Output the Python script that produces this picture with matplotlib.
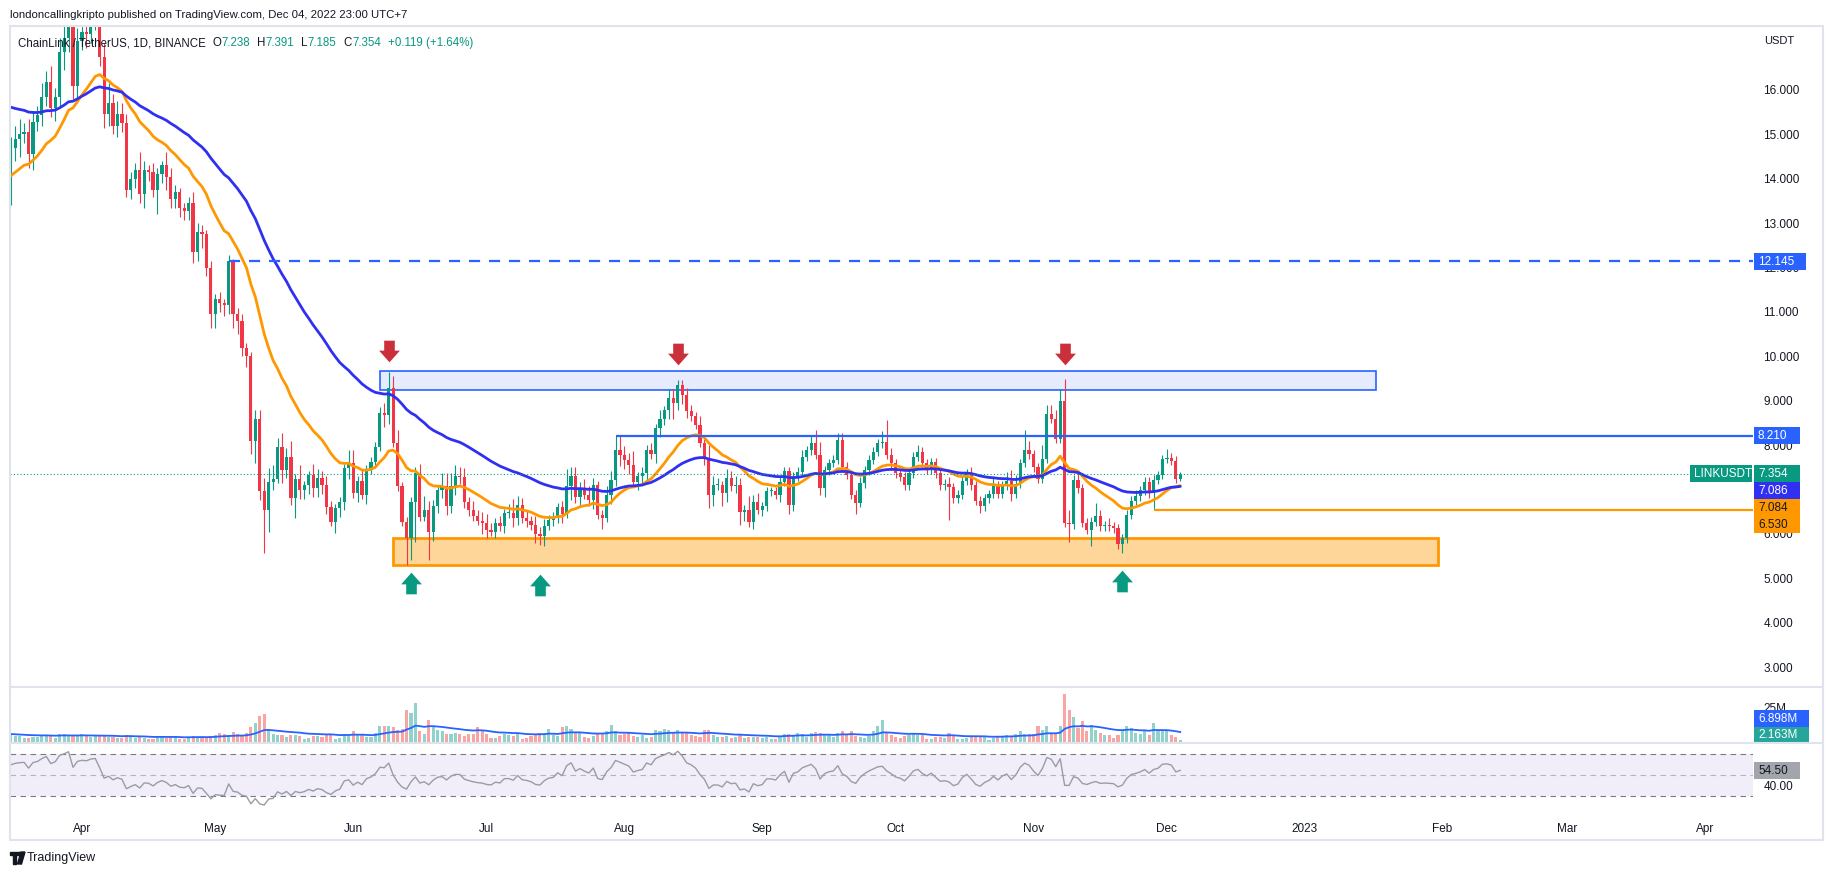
import numpy as np
import pandas as pd
import matplotlib
matplotlib.use('Agg')
import matplotlib.pyplot as plt
from matplotlib.path import Path
from matplotlib.patches import Rectangle, Circle, Polygon

plt.rcParams['font.family'] = ['Liberation Sans', 'DejaVu Sans']

# ---- data: LINKUSDT daily, 2022-03-16 .. 2022-12-04 ----
open_first = 13.70
close_mar = [14.70, 14.90, 15.00, 15.05, 14.55, 15.28, 15.43, 15.85, 16.18, 15.60, 15.85, 16.86, 17.16, 17.55, 16.10, 17.10]
close_apr = [17.30, 17.25, 17.55, 17.65, 16.75, 15.45, 15.70, 15.20, 15.45, 15.25, 13.75, 14.00, 14.20, 13.65, 14.20,
             14.15, 13.75, 14.10, 14.30, 14.05, 13.55, 13.70, 13.35, 13.28, 13.45, 12.35, 12.80, 12.75, 12.00, 10.95]
close_may = [11.30, 11.20, 11.15, 12.145, 10.95, 10.80, 10.20, 10.00, 8.10, 8.60, 6.96, 6.55, 7.18, 7.25, 7.97, 7.45,
             7.74, 6.80, 7.25, 6.99, 7.10, 7.33, 7.03, 7.26, 7.10, 6.60, 6.28, 6.58, 6.73, 7.48, 7.60]
close_jun = [6.92, 7.20, 6.88, 7.45, 7.63, 7.97, 8.72, 8.68, 9.28, 8.05, 7.07, 6.28, 5.91, 6.73, 7.37, 6.39, 6.55,
             6.05, 6.62, 7.00, 7.07, 6.62, 7.07, 7.30, 7.28, 6.73, 6.55, 6.40, 6.30, 6.25]
close_jul = [6.10, 6.05, 6.25, 6.17, 6.47, 6.48, 6.35, 6.66, 6.35, 6.30, 6.20, 6.00, 5.95, 6.18, 6.32, 6.35, 6.60,
             6.45, 7.07, 7.30, 6.84, 7.03, 6.88, 6.77, 7.10, 6.43, 6.36, 6.88, 7.22, 7.90, 7.79]
close_aug = [7.67, 7.56, 7.18, 7.30, 7.37, 7.90, 7.80, 8.38, 8.60, 8.79, 9.06, 8.95, 9.36, 9.13, 8.76, 8.65, 8.46,
             8.05, 7.70, 6.88, 7.10, 7.10, 6.92, 7.26, 7.07, 7.10, 6.50, 6.55, 6.26, 6.73, 6.55]
close_sep = [6.62, 6.96, 6.96, 6.88, 7.18, 7.41, 6.66, 7.29, 7.40, 7.74, 7.89, 8.04, 7.78, 7.03, 7.44, 7.60, 7.67,
             8.12, 7.52, 7.33, 6.88, 6.70, 7.14, 7.44, 7.67, 7.85, 8.04, 8.08, 7.78, 7.60]
close_oct = [7.37, 7.29, 7.10, 7.37, 7.74, 7.85, 7.60, 7.45, 7.62, 7.37, 7.10, 7.13, 7.05, 6.80, 6.88, 7.20, 7.37,
             7.10, 6.75, 6.62, 6.80, 6.90, 7.10, 6.90, 7.10, 7.20, 6.90, 7.13, 7.60, 7.90, 7.80]
close_nov = [7.50, 7.25, 7.70, 8.70, 8.60, 8.15, 9.00, 6.25, 6.22, 7.22, 7.03, 6.25, 6.10, 6.28, 6.40, 6.17, 6.20,
             6.17, 6.13, 5.77, 5.90, 6.43, 6.75, 6.85, 6.98, 7.18, 6.92, 7.22, 7.33, 7.69]
close_dec = [7.72, 7.65, 7.238, 7.354]

# wick lengths above / below the body
up_mar = [.25, .30, .35, .20, .30, .25, .20, .30, .25, .35, .20, .30, .30, .40, .40, .30]
dn_mar = [.30, .30, .40, .20, .30, .35, .20, .25, .20, .20, .30, .20, .40, .30, .30, .40]
up_apr = [.30, .25, .30, .35, .30, .30, .45, .20, .30, .25, .20, .15, .15, .40, .20, .10, .20, .15, .10, .30,
          .20, .15, .10, .10, .15, .25, .20, .15, .10, .15]
dn_apr = [.20, .30, .20, .20, .20, .30, .25, .20, .25, .20, .15, .20, .20, .20, .30, .20, .15, .55, .20, .30,
          .20, .20, .20, .20, .20, .25, .20, .30, .20, .30]
up_may = [.10, .15, .10, .15, .05, .15, .15, .10, .10, .20, .20, .30, .30, .30, .20, .30, .20, .35, .10, .30,
          .10, .10, .25, .20, .15, .20, .15, .10, .10, .10, .30]
dn_may = [.30, .20, .25, .20, .30, .30, .20, .25, .30, .50, .20, .98, .50, .20, .10, .30, .20, .15, .45, .20,
          .20, .20, .20, .20, .20, .15, .10, .25, .20, .20, .25]
up_jun = [.30, .10, .25, .10, .10, .10, .15, .23, .37, .27, .30, .10, .10, .10, .15, .20, .30, .20, .15, .10,
          .30, .30, .30, .25, .20, .20, .10, .20, .15, .20]
dn_jun = [.10, .20, .10, .20, .10, .15, .10, .26, .20, .10, .10, .10, .60, .49, .90, .10, .10, .63, .20, .15,
          .20, .20, .15, .20, .15, .15, .15, .10, .10, .25]
up_jul = [.20, .15, .10, .15, .10, .20, .30, .20, .15, .20, .10, .20, .15, .15, .10, .15, .10, .15, .40, .20,
          .20, .15, .20, .20, .15, .10, .10, .20, .20, .30, .33]
dn_jul = [.20, .10, .15, .10, .15, .10, .20, .15, .10, .15, .10, .20, .20, .23, .10, .15, .10, .20, .10, .30,
          .15, .20, .10, .15, .20, .10, .25, .10, .20, .15, .25]
up_aug = [.20, .15, .30, .10, .15, .10, .15, .10, .20, .10, .20, .20, .10, .10, .15, .15, .10, .20, .10, .30,
          .20, .15, .10, .20, .15, .20, .15, .10, .30, .15, .20]
dn_aug = [.20, .20, .10, .20, .15, .15, .10, .20, .20, .15, .20, .35, .15, .20, .15, .10, .10, .10, .15, .30,
          .25, .10, .30, .20, .10, .15, .30, .20, .10, .15, .10]
up_sep = [.10, .10, .10, .10, .10, .10, .10, .10, .10, .15, .10, .20, .30, .30, .10, .10, .10, .15, .15, .10,
          .10, .10, .15, .10, .10, .10, .10, .25, .49, .15]
dn_sep = [.15, .10, .10, .10, .15, .10, .20, .15, .10, .10, .10, .10, .10, .15, .20, .10, .10, .10, .10, .10,
          .10, .25, .10, .10, .10, .10, .10, .10, .10, .15]
up_oct = [.10, .10, .10, .10, .10, .15, .10, .10, .10, .10, .10, .10, .15, .10, .10, .10, .10, .15, .10, .10,
          .10, .10, .15, .10, .10, .20, .25, .20, .10, .45, .20]
dn_oct = [.10, .10, .10, .10, .10, .10, .10, .10, .10, .10, .10, .10, .73, .10, .10, .10, .10, .10, .10, .15,
          .10, .10, .10, .10, .10, .10, .15, .10, .10, .10, .10]
up_nov = [.10, .10, .30, .20, .20, .20, .26, .48, .30, .10, .15, .10, .10, .10, .30, .15, .10, .15, .10, .10,
          .10, .10, .10, .15, .10, .10, .10, .10, .10, .10]
dn_nov = [.10, .10, .10, .10, .10, .10, .10, .10, .40, .10, .10, .10, .10, .38, .10, .10, .10, .10, .10, .10,
          .20, .10, .10, .10, .10, .10, .10, .39, .10, .10]
up_dec = [.20, .10, .10, .037]
dn_dec = [.10, .10, .10, .053]

# volume in millions
vol_mar = [5.6, 4.6, 4.8, 3.5, 3.6, 4.4, 4.4, 4.8, 5.4, 4.6, 3.8, 6.0, 6.3, 5.0, 4.7, 5.4]
vol_apr = [6.2, 4.8, 4.0, 4.8, 5.0, 5.4, 4.5, 4.4, 3.2, 3.6, 5.8, 4.6, 3.5, 4.2, 3.8, 2.6, 3.0, 4.6, 4.0, 3.8,
           4.2, 4.8, 2.5, 2.8, 4.4, 5.0, 4.1, 4.3, 3.6, 4.6]
vol_may = [5.8, 7.2, 6.1, 5.5, 7.5, 6.0, 5.4, 7.2, 11.0, 14.0, 18.5, 20.3, 9.7, 6.5, 5.3, 5.8, 4.4, 5.6, 5.3, 5.0,
           3.0, 3.5, 5.0, 4.8, 4.2, 5.7, 6.3, 3.0, 3.3, 6.5, 5.2]
vol_jun = [8.0, 6.0, 5.5, 4.2, 4.0, 7.0, 11.5, 12.0, 12.0, 11.0, 9.0, 9.7, 22.6, 21.0, 27.6, 8.4, 6.5, 15.8, 12.0,
           9.0, 8.5, 6.5, 6.5, 7.0, 6.0, 5.0, 6.5, 6.0, 11.0, 8.0]
vol_jul = [6.0, 3.5, 3.2, 4.8, 6.5, 5.6, 5.2, 6.8, 3.0, 3.2, 5.0, 5.5, 7.0, 6.5, 10.0, 5.5, 5.0, 11.0, 11.5, 9.5,
           7.5, 7.0, 4.5, 3.5, 5.0, 6.0, 7.0, 8.5, 12.4, 8.0, 5.5]
vol_aug = [6.5, 6.8, 5.0, 4.5, 5.5, 3.5, 4.5, 9.0, 8.0, 9.5, 9.2, 7.5, 9.0, 7.2, 7.0, 5.5, 5.0, 4.5, 9.0, 9.0,
           5.6, 4.2, 4.5, 5.0, 3.4, 4.0, 5.6, 3.4, 4.2, 4.5, 4.0]
vol_sep = [3.8, 4.5, 3.0, 2.8, 4.6, 6.3, 6.5, 5.6, 7.2, 6.3, 4.5, 7.2, 7.6, 7.0, 6.0, 5.8, 4.2, 6.8, 8.4, 5.5,
           8.4, 5.0, 4.5, 3.8, 5.0, 8.0, 11.7, 15.8, 7.5, 5.5]
vol_oct = [4.5, 3.5, 5.0, 5.6, 7.0, 5.8, 5.5, 3.0, 2.5, 4.2, 4.5, 3.5, 7.0, 5.0, 2.8, 2.5, 3.5, 4.5, 4.0, 4.2,
           5.0, 2.4, 3.5, 4.5, 5.0, 5.8, 5.0, 6.0, 8.0, 6.0, 6.5]
vol_nov = [6.0, 11.7, 9.0, 11.7, 7.0, 6.3, 11.7, 34.0, 22.6, 18.0, 10.6, 15.2, 8.0, 12.4, 9.0, 7.0, 5.6, 5.6, 3.4,
           5.6, 8.4, 11.7, 10.6, 6.8, 6.3, 8.4, 5.6, 14.0, 9.0, 8.4]
vol_dec = [8.7, 5.6, 4.0, 2.2]

# indicator starting values (read at the left edge)
ema20_start, ema50_start, volma_start = 14.0, 15.65, 6.3
rsi_gain_start, rsi_loss_start = 0.22, 0.20

# drawings
red_arrows = [('2022-06-09', 10.12), ('2022-08-13', 10.05), ('2022-11-08', 10.05)]
green_arrows = [('2022-06-14', 4.90), ('2022-07-13', 4.85), ('2022-11-21', 4.94)]
blue_zone = ('2022-06-07', '2023-01-17', 9.24, 9.67)
orange_zone = ('2022-06-10', '2023-01-31', 5.30, 5.90)
level_dashed = ('2022-05-04', 12.145)
level_blue = ('2022-07-30', 8.21)
level_orange = ('2022-11-28', 6.53)
month_ticks = ['2022-04-01', '2022-05-01', '2022-06-01', '2022-07-01', '2022-08-01', '2022-09-01', '2022-10-01',
               '2022-11-01', '2022-12-01', '2023-01-01', '2023-02-01', '2023-03-01', '2023-04-01']
month_labels = ['Apr', 'May', 'Jun', 'Jul', 'Aug', 'Sep', 'Oct', 'Nov', 'Dec', '2023', 'Feb', 'Mar', 'Apr']
price_ticks = [3, 4, 5, 6, 8, 9, 10, 11, 12, 13, 14, 15, 16]

# ---- build series ----
dates = pd.date_range('2022-03-16', '2022-12-04', freq='D')
base = pd.Timestamp('2022-04-01')
closes = np.array(close_mar + close_apr + close_may + close_jun + close_jul + close_aug + close_sep + close_oct + close_nov + close_dec)
up_w = np.array(up_mar + up_apr + up_may + up_jun + up_jul + up_aug + up_sep + up_oct + up_nov + up_dec)
dn_w = np.array(dn_mar + dn_apr + dn_may + dn_jun + dn_jul + dn_aug + dn_sep + dn_oct + dn_nov + dn_dec)
vols = np.array(vol_mar + vol_apr + vol_may + vol_jun + vol_jul + vol_aug + vol_sep + vol_oct + vol_nov + vol_dec)
assert len(closes) == len(dates) == len(up_w) == len(dn_w) == len(vols)

opens = np.concatenate([[open_first], closes[:-1]])
highs = np.maximum(opens, closes) + up_w
lows = np.minimum(opens, closes) - dn_w
x = (dates - base).days.values.astype(float)


def xd(s):
    return (pd.Timestamp(s) - base).days


def ema(vals, span, start):
    a = 2.0 / (span + 1)
    out, prev = [], start
    for v in vals:
        prev = prev + a * (v - prev)
        out.append(prev)
    return np.array(out)


ema20 = ema(closes, 20, ema20_start)
ema50 = ema(closes, 50, ema50_start)
volma = ema(vols, 20, volma_start)

rsi = []
g, l = rsi_gain_start, rsi_loss_start
for d in closes - opens:
    g = (g * 13 + max(d, 0)) / 14
    l = (l * 13 + max(-d, 0)) / 14
    rsi.append(100 - 100 / (1 + g / l))
rsi = np.array(rsi)

# ---- figure ----
W, H = 1834, 875
GREEN, RED = '#089981', '#f23645'
ORANGE, INDIGO, BLUE = '#ff9800', '#3030f2', '#2962ff'
DARK = '#131722'
XMIN, XMAX = -16.17, 375.8

fig = plt.figure(figsize=(W / 100, H / 100), dpi=100)


def pane(top, bottom, **kw):
    return fig.add_axes([10 / W, 1 - bottom / H, 1743 / W, (bottom - top) / H], **kw)


ax = pane(26, 687)
axv = pane(687, 743, sharex=ax)
axr = pane(743, 812, sharex=ax)
for a in (ax, axv, axr):
    for s in a.spines.values():
        s.set_visible(False)
    a.yaxis.tick_right()
    a.tick_params(axis='both', length=0, labelsize=8.5, labelcolor=DARK)
    a.tick_params(axis='y', pad=7.5)
ax.tick_params(axis='x', labelbottom=False)
axv.tick_params(axis='x', labelbottom=False)

# candles
up_mask = closes >= opens
ccol = np.where(up_mask, GREEN, RED)
ax.vlines(x, lows, highs, colors=ccol, lw=0.8, zorder=3)
ax.bar(x, np.maximum(np.abs(closes - opens), 0.02), bottom=np.minimum(opens, closes), width=0.72,
       color=ccol, lw=0, zorder=3)
ax.plot(x, ema20, color=ORANGE, lw=2.0, zorder=4, solid_capstyle='round')
ax.plot(x, ema50, color=INDIGO, lw=2.0, zorder=4, solid_capstyle='round')

# zones and levels
for z, fc, ec, lw in [(blue_zone, '#e6ebfd', BLUE, 1.2), (orange_zone, '#ffd699', ORANGE, 2.0)]:
    ax.add_patch(Rectangle((xd(z[0]), z[2]), xd(z[1]) - xd(z[0]), z[3] - z[2], facecolor=fc,
                           edgecolor=ec, lw=lw, zorder=2))
ax.hlines(level_dashed[1], xd(level_dashed[0]), XMAX, color=BLUE, lw=1.6, linestyles=(0, (5, 4)), zorder=5)
ax.hlines(level_blue[1], xd(level_blue[0]), XMAX, color=BLUE, lw=1.6, zorder=5)
ax.hlines(level_orange[1], xd(level_orange[0]), XMAX, color=ORANGE, lw=1.6, zorder=5)
ax.axhline(closes[-1], color=GREEN, lw=0.8, ls=(0, (1, 2)), zorder=5)

# arrows
dv = [(-0.245, 0.5), (0.245, 0.5), (0.245, 0.04), (0.48, 0.04), (0, -0.5), (-0.48, 0.04), (-0.245, 0.04), (-0.245, 0.5)]
codes = [Path.MOVETO] + [Path.LINETO] * 6 + [Path.CLOSEPOLY]
down_arrow = Path(dv, codes)
up_arrow = Path([(vx, -vy) for vx, vy in dv], codes)
ax.plot([xd(d) for d, p in red_arrows], [p for d, p in red_arrows], ls='none', marker=down_arrow,
        ms=15.6, color='#cc2f3c', mew=0, zorder=6)
ax.plot([xd(d) for d, p in green_arrows], [p for d, p in green_arrows], ls='none', marker=up_arrow,
        ms=15.6, color=GREEN, mew=0, zorder=6)

ax.set_xlim(XMIN, XMAX)
ax.set_ylim(16 - 597 / 44.4, 16 + 64 / 44.4)
ax.set_yticks(price_ticks)
ax.set_yticklabels([f'{v:.3f}' for v in price_ticks])

# volume pane
vcol = np.where(up_mask, '#92d2cc', '#f7a6a4')
axv.bar(x, vols, width=0.7, color=vcol, lw=0)
axv.plot(x, volma, color=BLUE, lw=1.3)
axv.set_ylim(0, 25 * 56 / 36)
axv.set_yticks([25])
axv.set_yticklabels(['25M'])

# RSI pane
axr.axhspan(30, 70, xmin=0, xmax=1, color='#f1eef9', lw=0, zorder=0)
axr.axhline(70, color='#787b86', lw=0.8, ls=(0, (5, 4)))
axr.axhline(30, color='#787b86', lw=0.8, ls=(0, (5, 4)))
axr.axhline(50, color='#b2b5be', lw=0.8, ls=(0, (5, 4)))
axr.plot(x, rsi, color='#9a9ca3', lw=1.0)
axr.set_ylim(50 - 37 / 1.05, 50 + 32 / 1.05)
axr.set_yticks([40])
axr.set_yticklabels(['40.00'])
axr.set_xticks([xd(d) for d in month_ticks])
axr.set_xticklabels(month_labels)
axr.tick_params(axis='x', pad=8)

# ---- overlay in pixel coordinates ----
ov = fig.add_axes([0, 0, 1, 1], zorder=10)
ov.set_xlim(0, W)
ov.set_ylim(H, 0)
ov.axis('off')
ov.patch.set_alpha(0)

fc = '#e0e3eb'
ov.plot([10, 1823, 1823, 10, 10], [26, 26, 840, 840, 26], color=fc, lw=1.5)
ov.plot([10, 1823], [687, 687], color=fc, lw=1.5)
ov.plot([10, 1823], [743, 743], color=fc, lw=1.5)

fig.canvas.draw()
renderer = fig.canvas.get_renderer()


def py(a, v):
    return H - a.transData.transform((0, v))[1]


def tag(x0, x1, yc, face, txt, tcol='white'):
    ov.add_patch(Rectangle((x0, yc - 8.5), x1 - x0, 17, facecolor=face, edgecolor='none'))
    ov.text(x0 + 4, yc + 0.5, txt, color=tcol, fontsize=8.5, va='center', ha='left')


tag(1754, 1806, py(ax, level_dashed[1]), BLUE, '12.145')
tag(1754, 1800, py(ax, level_blue[1]), BLUE, '8.210')
yl = py(ax, closes[-1])
tag(1690, 1752, yl, GREEN, 'LINKUSDT')
tag(1754, 1800, yl, GREEN, '7.354')
tag(1754, 1800, yl + 17, INDIGO, '7.086')
tag(1754, 1800, yl + 34, ORANGE, '7.084', DARK)
tag(1754, 1800, yl + 51, ORANGE, '6.530', DARK)
tag(1754, 1809, 718, BLUE, '6.898M')
tag(1754, 1809, 735, '#26a69a', '2.163M')
tag(1754, 1800, py(axr, 54.5), '#a3a5ad', '54.50', DARK)

ov.text(1764, 41, 'USDT', color=DARK, fontsize=8, va='center', ha='left')
ov.text(10, 15, 'londoncallingkripto published on TradingView.com, Dec 04, 2022 23:00 UTC+7',
        color=DARK, fontsize=8.2, va='center', ha='left')

pieces = [('ChainLink / TetherUS, 1D, BINANCE', DARK, 7), ('O', DARK, 0), ('7.238', GREEN, 7),
          ('H', DARK, 0), ('7.391', GREEN, 7), ('L', DARK, 0), ('7.185', GREEN, 7),
          ('C', DARK, 0), ('7.354', GREEN, 7), ('+0.119 (+1.64%)', GREEN, 0)]
xp = 18
for s, col, gap in pieces:
    t = ov.text(xp, 43, s, color=col, fontsize=8.3, va='center', ha='left')
    xp += t.get_window_extent(renderer).width + gap

# TradingView logo
ov.add_patch(Polygon([(10, 852), (18, 852), (18, 855), (16, 855), (16, 864), (13, 864), (13, 855), (10, 855)],
                     closed=True, color=DARK))
ov.add_patch(Circle((19.5, 854), 1.6, color=DARK))
ov.add_patch(Polygon([(21, 852), (25, 852), (21.5, 864), (17.5, 864)], closed=True, color=DARK))
ov.text(27, 858, 'TradingView', color=DARK, fontsize=9, va='center', ha='left')

fig.savefig('out.png', dpi=100)
